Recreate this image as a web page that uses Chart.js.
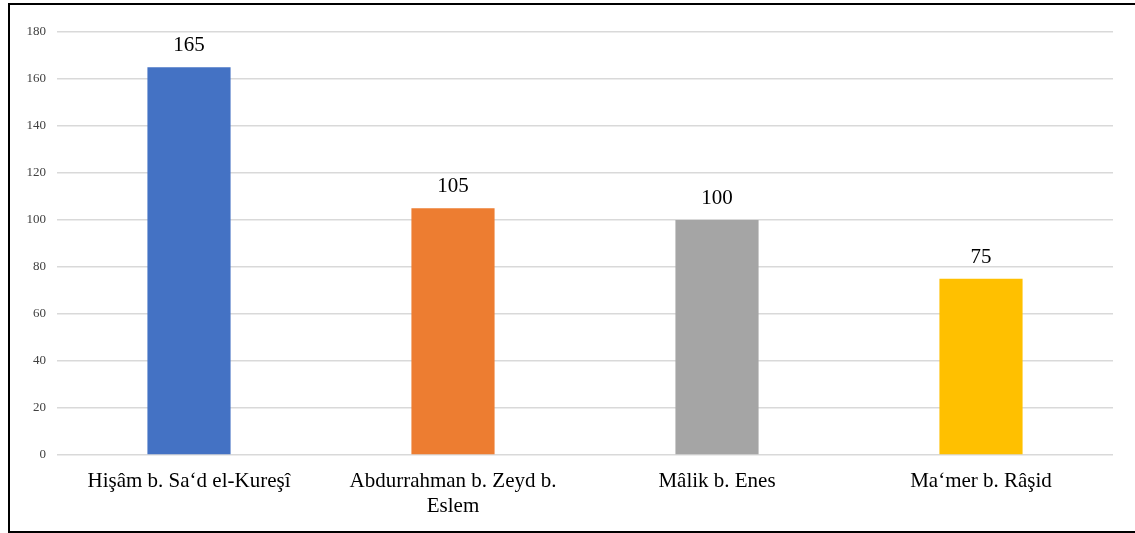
<!DOCTYPE html>
<html>
<head>
<meta charset="utf-8">
<script src="https://cdn.jsdelivr.net/npm/chart.js@4"></script>
<style>
  html, body { margin: 0; padding: 0; background: #fff; overflow: hidden; }
  #wrap { position: relative; width: 1135px; height: 533px; }
  #frame {
    position: absolute; left: 8px; top: 3px; width: 1200px; height: 530px;
    box-sizing: border-box; border: 2px solid #000; pointer-events: none;
  }
  canvas { position: absolute; left: 0; top: 0; }
</style>
</head>
<body>
<div id="wrap">
  <canvas id="barChart" width="1135" height="533"></canvas>
  <div id="frame"></div>
</div>
<script>
const labels = [
    'Hişâm b. Sa‘d el-Kureşî',
    ['Abdurrahman b. Zeyd b.', 'Eslem'],
    'Mâlik b. Enes',
    'Ma‘mer b. Râşid'
];
const counts = [165, 105, 100, 75];
const barColors = ['#4472C4', '#ED7D31', '#A5A5A5', '#FFC000'];

const serif = '"Liberation Serif", "Times New Roman", serif';

// value labels above each bar
const valueLabels = {
    id: 'valueLabels',
    afterDatasetsDraw(chart) {
        const ctx = chart.ctx;
        const meta = chart.getDatasetMeta(0);
        ctx.save();
        ctx.font = '21px ' + serif;
        ctx.fillStyle = '#000';
        ctx.textAlign = 'center';
        ctx.textBaseline = 'alphabetic';
        meta.data.forEach((bar, i) => {
            ctx.fillText(String(counts[i]), bar.x, bar.y - 16);
        });
        ctx.restore();
    }
};

const ctx = document.getElementById('barChart').getContext('2d');

const chart = new Chart(ctx, {
    type: 'bar',
    data: {
        labels: labels,
        datasets: [{
            data: counts,
            backgroundColor: barColors,
            borderWidth: 0,
            barPercentage: 0.315,
            categoryPercentage: 1
        }]
    },
    options: {
        animation: false,
        responsive: false,
        layout: {
            padding: { left: 0, right: 22, top: 32, bottom: 0 }
        },
        plugins: {
            legend: { display: false },
            tooltip: { enabled: false }
        },
        scales: {
            x: {
                border: { display: false },
                grid: { display: false, drawTicks: false },
                ticks: {
                    color: '#000',
                    padding: 14,
                    maxRotation: 0,
                    autoSkip: false,
                    font: { family: serif, size: 21, lineHeight: 1.2 }
                },
                afterFit(scale) { scale.height = 78; }
            },
            y: {
                min: 0,
                max: 180,
                border: { display: false },
                grid: { color: '#d9d9d9', lineWidth: 1.5, drawTicks: false },
                ticks: {
                    stepSize: 20,
                    color: '#404040',
                    padding: 11,
                    font: { family: serif, size: 13 }
                },
                afterFit(scale) { scale.width = 57; }
            }
        }
    },
    plugins: [valueLabels]
});
</script>
</body>
</html>
